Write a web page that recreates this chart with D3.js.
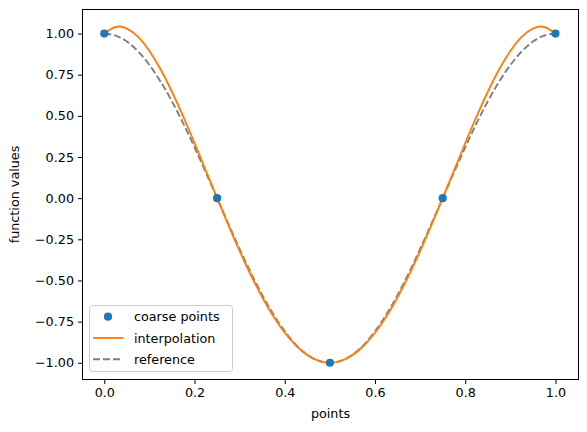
<!DOCTYPE html>
<html><head><meta charset="utf-8">
<script src="https://cdn.jsdelivr.net/npm/d3@7"></script>
<style>body{margin:0;background:#fff}svg{display:block;font-family:"DejaVu Sans",sans-serif}</style>
</head><body><svg id="c" width="587" height="432"></svg>
<script>
const coarseX = [0, 0.25, 0.5, 0.75, 1];
const coarseY = [1, 0, -1, 0, 1];
const fineX = [0,0.025,0.05,0.075,0.1,0.125,0.15,0.175,0.2,0.225,0.25,0.275,0.3,0.325,0.35,0.375,0.4,0.425,0.45,0.475,0.5,
  0.525,0.55,0.575,0.6,0.625,0.65,0.675,0.7,0.725,0.75,0.775,0.8,0.825,0.85,0.875,0.9,0.925,0.95,0.975,1];
const interpY = [1.0,1.0396,1.0304,0.9797,0.8944,0.7813,0.6464,0.4957,0.3344,0.1676,0,-0.1644,-0.3216,-0.4684,-0.6016,-0.7188,-0.8176,-0.8964,-0.9536,-0.9884,-1,
  -0.9884,-0.9536,-0.8964,-0.8176,-0.7188,-0.6016,-0.4684,-0.3216,-0.1644,0,0.1676,0.3344,0.4957,0.6464,0.7813,0.8944,0.9797,1.0304,1.0396,1.0];
const refY = [1,0.9877,0.9511,0.8910,0.8090,0.7071,0.5878,0.4540,0.3090,0.1564,0,-0.1564,-0.3090,-0.4540,-0.5878,-0.7071,-0.8090,-0.8910,-0.9511,-0.9877,-1,
  -0.9877,-0.9511,-0.8910,-0.8090,-0.7071,-0.5878,-0.4540,-0.3090,-0.1564,0,0.1564,0.3090,0.4540,0.5878,0.7071,0.8090,0.8910,0.9511,0.9877,1];
const xTicks = [0,0.2,0.4,0.6,0.8,1.0];
const yTicks = [-1,-0.75,-0.5,-0.25,0,0.25,0.5,0.75,1];
const legendLabels = ["coarse points","interpolation","reference"];

const svg = d3.select("#c");
const L=82.5,R=578.5,T=9.5,B=379.5;
const x = d3.scaleLinear().domain([-0.0483,1.051]).range([L,R]);
const y = d3.scaleLinear().domain([-1.1016,1.146]).range([B,T]);
const fs = "12.75px";

const line = d3.line().curve(d3.curveNatural);
svg.append("path").attr("d", line(fineX.map((v,i)=>[x(v),y(refY[i])])))
  .attr("fill","none").attr("stroke","#7f7f7f").attr("stroke-width",1.9).attr("stroke-dasharray","7,3");
svg.append("path").attr("d", line(fineX.map((v,i)=>[x(v),y(interpY[i])])))
  .attr("fill","none").attr("stroke","#ff7f0e").attr("stroke-width",1.9);
svg.append("g").selectAll("circle").data(coarseX).join("circle")
  .attr("cx",d=>x(d)).attr("cy",(d,i)=>y(coarseY[i])).attr("r",4.1).attr("fill","#1f77b4");

const xa = svg.append("g").attr("transform",`translate(0,${B})`)
  .call(d3.axisBottom(x).tickValues(xTicks).tickFormat(d3.format(".1f")).tickSizeOuter(0).tickSize(4.5).tickPadding(4));
const ya = svg.append("g").attr("transform",`translate(${L},0)`)
  .call(d3.axisLeft(y).tickValues(yTicks).tickFormat(d3.format(".2f")).tickSizeOuter(0).tickSize(4.5).tickPadding(4));
[xa,ya].forEach(a=>{a.select(".domain").remove();a.selectAll("text").attr("font-size",fs).attr("font-family","DejaVu Sans").attr("fill","#000");
  a.selectAll("line").attr("stroke","#000").attr("stroke-width",1);});
ya.selectAll("text").text(d=>d3.format(".2f")(d).replace("-","\u2212"));

svg.append("rect").attr("x",L).attr("y",T).attr("width",R-L).attr("height",B-T)
  .attr("fill","none").attr("stroke","#000").attr("stroke-width",1);

svg.append("text").attr("x",(L+R)/2).attr("y",418).attr("text-anchor","middle").attr("font-size",fs).text("points");
svg.append("text").attr("transform",`translate(19,${(T+B)/2}) rotate(-90)`).attr("text-anchor","middle").attr("font-size",fs).text("function values");

const lg = svg.append("g");
lg.append("rect").attr("x",89.5).attr("y",305.5).attr("width",143).attr("height",66).attr("rx",3)
  .attr("fill","#fff").attr("fill-opacity",0.8).attr("stroke","#cccccc");
const rows=[316.7,338,359.3];
lg.append("circle").attr("cx",108).attr("cy",rows[0]).attr("r",4.1).attr("fill","#1f77b4");
lg.append("line").attr("x1",93).attr("x2",123).attr("y1",rows[1]).attr("y2",rows[1]).attr("stroke","#ff7f0e").attr("stroke-width",1.9);
lg.append("line").attr("x1",93).attr("x2",123).attr("y1",rows[2]).attr("y2",rows[2]).attr("stroke","#7f7f7f").attr("stroke-width",1.9).attr("stroke-dasharray","7,3");
lg.selectAll("text.l").data(legendLabels).join("text").attr("x",134).attr("y",(d,i)=>rows[i]+4.5)
  .attr("font-size",fs).text(d=>d);
</script></body></html>
